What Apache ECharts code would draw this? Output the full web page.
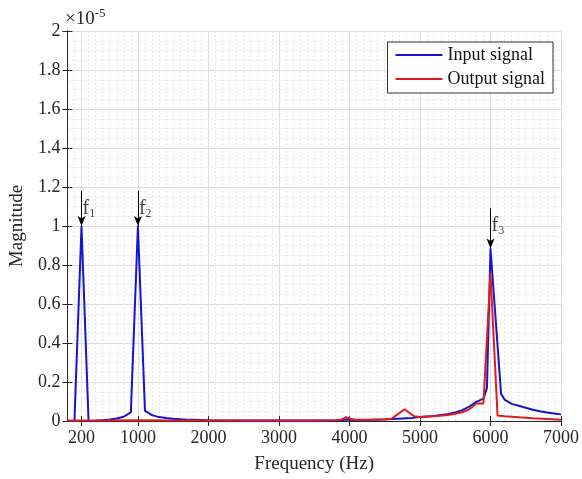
<!DOCTYPE html>
<html>
<head>
<meta charset="utf-8">
<script src="https://cdn.jsdelivr.net/npm/echarts@6/dist/echarts.min.js"></script>
<style>html,body{margin:0;padding:0;background:#fff}#c{width:582px;height:479px}</style>
</head>
<body>
<div id="c"></div>
<script>
// Values in units of 1e-5
const xTickValues = [200, 1000, 2000, 3000, 4000, 5000, 6000, 7000];
const inputFreq = [0,100,200,300,400,500,600,700,800,900,1000,1100,1200,1300,1400,1500,1600,1700,1800,2000,2500,3000,3500,3800,3900,3950,4000,4100,4300,4500,4600,4700,4800,4900,5000,5200,5400,5500,5600,5700,5800,5900,5950,6000,6150,6200,6300,6400,6500,6600,6700,6800,6900,7000];
const inputMag = [0,0,1.0,0,0.001,0.004,0.008,0.013,0.022,0.045,1.0,0.052,0.03,0.02,0.015,0.011,0.009,0.007,0.006,0.004,0.003,0.002,0.002,0.003,0.004,0.008,0.006,0.005,0.006,0.008,0.01,0.012,0.014,0.016,0.02,0.026,0.036,0.044,0.056,0.074,0.098,0.115,0.17,0.885,0.14,0.11,0.088,0.078,0.068,0.058,0.05,0.044,0.039,0.034];
const outputFreq = [0,500,1000,1500,2000,2500,3000,3500,3800,3880,3950,4020,4100,4300,4500,4600,4780,4920,5000,5200,5400,5500,5600,5700,5800,5900,6000,6100,6200,6400,6600,6800,7000];
const outputMag = [0.003,0.003,0.004,0.003,0.003,0.003,0.003,0.003,0.004,0.006,0.02,0.01,0.006,0.007,0.009,0.012,0.06,0.024,0.02,0.024,0.031,0.037,0.045,0.06,0.09,0.09,0.758,0.028,0.024,0.019,0.014,0.01,0.006];
const peakFreq = [200, 1000, 6000];
const peakMag = [1.0, 1.0, 0.885];
const arrowTop = [1.18, 1.18, 1.09];
const peakNames = ['1', '2', '3'];
const labelMag = [1.09, 1.09, 1.0];

const FONT = 'Liberation Serif';
const AX = '#262626';
const chart = echarts.init(document.getElementById('c'), null, {renderer: 'canvas'});

const arrows = peakFreq.map((f, i) => [
  {coord: [f, arrowTop[i]]},
  {coord: [f, peakMag[i]]}
]);

const option = {
  animation: false,
  backgroundColor: '#fff',
  grid: {left: 64, right: 18, top: 31, bottom: 55},
  graphic: [{
    type: 'text', left: 65, top: 7,
    style: {
      text: '{a|×10}{b|-5}',
      rich: {
        a: {fontFamily: FONT, fontSize: 19, fill: AX},
        b: {fontFamily: FONT, fontSize: 13, fill: AX, padding: [0, 0, 11, 0]}
      }
    }
  }],
  legend: {
    data: ['Input signal', 'Output signal'],
    orient: 'vertical', right: 29, top: 42,
    backgroundColor: '#fff', borderColor: '#333', borderWidth: 1,
    padding: [4, 8, 5, 8], itemGap: 6,
    icon: 'rect', itemWidth: 47, itemHeight: 2,
    textStyle: {fontFamily: FONT, fontSize: 18, color: '#111'}
  },
  xAxis: [{
    type: 'value', min: 0, max: 7000, interval: 1000,
    name: 'Frequency (Hz)', nameLocation: 'middle', nameGap: 34,
    nameTextStyle: {fontFamily: FONT, fontSize: 19, color: AX},
    axisLine: {show: true, lineStyle: {color: AX, width: 1}},
    axisTick: {show: true, inside: true, length: 5, customValues: xTickValues, lineStyle: {color: AX}},
    axisLabel: {customValues: xTickValues, fontFamily: FONT, fontSize: 18, color: AX, margin: 8,
      formatter: v => String(v)},
    splitLine: {show: true, lineStyle: {color: '#dedede', width: 1}},
    minorTick: {show: false, splitNumber: 10},
    minorSplitLine: {show: true, lineStyle: {color: '#e6e6e6', type: [2, 2], width: 1}}
  }, {
    type: 'value', min: 0, max: 7000, interval: 1000, position: 'top',
    axisLine: {show: true, lineStyle: {color: AX, width: 1}},
    axisTick: {show: true, inside: true, length: 5, customValues: xTickValues, lineStyle: {color: AX}},
    axisLabel: {show: false}, splitLine: {show: false}
  }],
  yAxis: [{
    type: 'value', min: 0, max: 2, interval: 0.2,
    name: 'Magnitude', nameLocation: 'middle', nameGap: 37,
    nameTextStyle: {fontFamily: FONT, fontSize: 19, color: AX},
    axisLine: {show: true, lineStyle: {color: AX, width: 1}},
    axisTick: {show: true, inside: true, length: 5, lineStyle: {color: AX}},
    axisLabel: {fontFamily: FONT, fontSize: 18, color: AX, margin: 7,
      formatter: v => String(Math.round(v * 10) / 10)},
    splitLine: {show: true, lineStyle: {color: '#dedede', width: 1}},
    minorTick: {show: false, splitNumber: 4},
    minorSplitLine: {show: true, lineStyle: {color: '#e6e6e6', type: [2, 2], width: 1}}
  }, {
    type: 'value', min: 0, max: 2, interval: 0.2, position: 'right',
    axisLine: {show: true, lineStyle: {color: AX, width: 1}},
    axisTick: {show: true, inside: true, length: 5, lineStyle: {color: AX}},
    axisLabel: {show: false}, splitLine: {show: false}
  }],
  series: [{
    name: 'Input signal', type: 'line', showSymbol: false, symbol: 'none',
    data: inputFreq.map((f, i) => [f, inputMag[i]]),
    lineStyle: {color: '#1414d2', width: 2}, itemStyle: {color: '#1414d2'},
    z: 3
  }, {
    name: 'Output signal', type: 'line', showSymbol: false, symbol: 'none',
    data: outputFreq.map((f, i) => [f, outputMag[i]]),
    lineStyle: {color: '#e01c1c', width: 2}, itemStyle: {color: '#e01c1c'},
    z: 4
  }, {
    name: 'labels', type: 'scatter', symbolSize: 0, silent: true, z: 5,
    data: peakFreq.map((f, i) => ({value: [f, labelMag[i]], name: peakNames[i]})),
    label: {
      show: true, position: 'right', distance: 1,
      formatter: p => '{f|f}{s|' + p.name + '}',
      rich: {
        f: {fontFamily: FONT, fontSize: 20, color: '#111'},
        s: {fontFamily: FONT, fontSize: 12, color: '#111', padding: [10, 0, 0, 0]}
      }
    },
    markLine: {
      silent: true, symbol: ['none', 'arrow'], symbolSize: [6, 10],
      lineStyle: {color: '#000', width: 1, type: 'solid'},
      label: {show: false},
      data: arrows
    }
  }]
};
chart.setOption(option);
</script>
</body>
</html>
